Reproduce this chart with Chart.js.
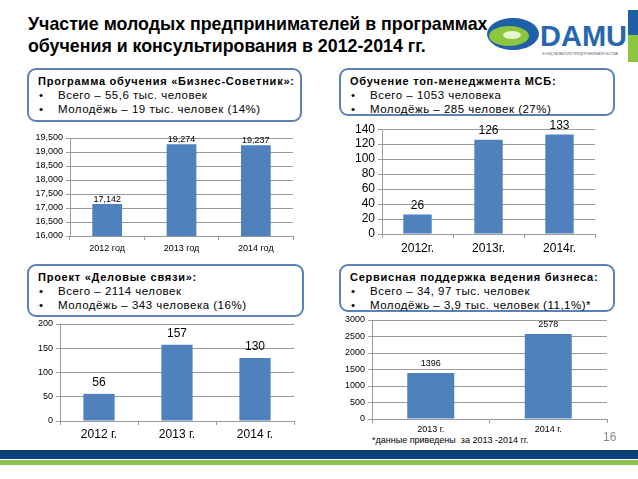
<!DOCTYPE html>
<html>
<head>
<meta charset="utf-8">
<script src="https://cdn.jsdelivr.net/npm/chart.js@4.4.1/dist/chart.umd.min.js"></script>
<style>
  body { margin: 0; width: 638px; height: 479px; background: #fff; position: relative; overflow: hidden;
         font-family: "Liberation Sans", Arial, sans-serif; color: #000; }
  .title { position: absolute; left: 28px; top: 13px; font-size: 17.8px; font-weight: bold; line-height: 22px; }
  .box { position: absolute; border: 2px solid #5b82b8; border-radius: 9px; background: #fff; box-sizing: border-box;
         font-size: 11.5px; line-height: 14px; padding: 4px 0 0 9px; letter-spacing: 0.5px; white-space: nowrap; }
  .box b { font-size: 11px; letter-spacing: 0.75px; display: block; }
  .box .li { position: relative; padding-left: 20px; }
  .box .li:before { content: "•"; position: absolute; left: 1px; letter-spacing: 0; }
  canvas { position: absolute; }
  .stripe1 { position: absolute; left: 0; top: 450px; width: 638px; height: 9px; background: #0d3f7a; }
  .stripe2 { position: absolute; left: 0; top: 460px; width: 638px; height: 5px; background: #8dc04a; }
  .note { position: absolute; left: 372px; top: 435px; font-size: 9px; }
  .page { position: absolute; left: 603px; top: 430px; font-size: 12px; color: #8c8c8c; }
</style>
</head>
<body>
<div class="title">Участие молодых предпринимателей в программах<br>обучения и консультирования в 2012-2014 гг.</div>

<svg style="position:absolute;left:485px;top:8px" width="153" height="56">
  <ellipse cx="28" cy="26" rx="26" ry="16" fill="#1f5fa6"/>
  <ellipse cx="24" cy="28" rx="20" ry="10" fill="#8cc63f"/>
  <ellipse cx="27" cy="27" rx="9" ry="4" fill="#e8f5d0"/>
  <text x="55" y="38" font-family="Liberation Sans, Arial" font-size="29" font-weight="bold" fill="#2867ad">DAMU</text>
  <text x="57" y="47" font-family="Liberation Sans, Arial" font-size="3.5" fill="#667">ФОНД РАЗВИТИЯ ПРЕДПРИНИМАТЕЛЬСТВА</text>
  <rect x="143" y="2" width="10" height="25" fill="#1f5fa6"/>
  <rect x="143" y="27" width="10" height="27" fill="#8cc63f"/>
</svg>

<div class="box" style="left:27px;top:68px;width:275px;height:54px">
  <b>Программа обучения «Бизнес-Советник»:</b>
  <div class="li">Всего – 55,6 тыс. человек</div>
  <div class="li">Молодёжь – 19 тыс. человек (14%)</div>
</div>
<div class="box" style="left:339px;top:68px;width:276px;height:48px">
  <b>Обучение топ-менеджмента МСБ:</b>
  <div class="li">Всего – 1053 человека</div>
  <div class="li">Молодёжь – 285 человек (27%)</div>
</div>
<div class="box" style="left:27px;top:264px;width:277px;height:53px">
  <b>Проект «Деловые связи»:</b>
  <div class="li">Всего – 2114 человек</div>
  <div class="li">Молодёжь – 343 человека (16%)</div>
</div>
<div class="box" style="left:339px;top:264px;width:276px;height:48px">
  <b>Сервисная поддержка ведения бизнеса:</b>
  <div class="li">Всего – 34, 97 тыс. человек</div>
  <div class="li">Молодёжь – 3,9 тыс. человек (11,1%)*</div>
</div>

<canvas id="c1" width="280" height="130" style="left:20px;top:128px"></canvas>
<canvas id="c2" width="272" height="139" style="left:330px;top:119px"></canvas>
<canvas id="c3" width="280" height="131" style="left:20px;top:314px"></canvas>
<canvas id="c4" width="284" height="125" style="left:330px;top:310px"></canvas>

<div class="note">*данные приведены&nbsp; за 2013 -2014 гг.</div>
<div class="page">16</div>
<div class="stripe1"></div>
<div class="stripe2"></div>

<script>
// ---- data ----
const advisorYears = ["2012 год", "2013 год", "2014 год"];
const advisorValues = [17142, 19274, 19237];

const topMgmtYears = ["2012г.", "2013г.", "2014г."];
const topMgmtValues = [26, 126, 133];

const linksYears = ["2012 г.", "2013 г.", "2014 г."];
const linksValues = [56, 157, 130];

const serviceYears = ["2013 г.", "2014 г."];
const serviceValues = [1396, 2578];

const BAR = "#4f81bd";
const GRID = "#9a9a9a";
Chart.defaults.font.family = '"Liberation Sans", Arial, sans-serif';
Chart.defaults.color = "#000";
Chart.defaults.animation = false;

/* value labels above bars */
const barLabels = {
  id: "barLabels",
  afterDatasetsDraw(chart, args, opts) {
    const ctx = chart.ctx;
    const meta = chart.getDatasetMeta(0);
    ctx.save();
    ctx.font = opts.size + 'px "Liberation Sans", Arial, sans-serif';
    ctx.fillStyle = "#000";
    ctx.textAlign = "center";
    ctx.textBaseline = "bottom";
    meta.data.forEach((bar, i) => {
      const v = chart.data.datasets[0].data[i];
      ctx.fillText(opts.fmt ? v.toLocaleString("en-US") : String(v), bar.x, bar.y - opts.gap);
    });
    ctx.restore();
  }
};

function makeChart(id, labels, values, o) {
  return new Chart(document.getElementById(id), {
    type: "bar",
    data: {
      labels: labels,
      datasets: [{ data: values, backgroundColor: BAR, barPercentage: 0.4, categoryPercentage: 1 }]
    },
    options: {
      responsive: false,
      layout: { padding: { top: 10, right: o.right, bottom: 0, left: 0 } },
      plugins: {
        legend: { display: false },
        tooltip: { enabled: false },
        barLabels: { size: o.labelSize, gap: o.gap, fmt: o.fmt }
      },
      scales: {
        x: {
          grid: { offset: true, drawOnChartArea: false, tickLength: 4, color: GRID },
          border: { color: GRID },
          ticks: { font: { size: o.xSize }, padding: o.xPad, maxRotation: 0 },
          afterFit: s => { s.height = o.xHeight; }
        },
        y: {
          min: o.min, max: o.max,
          grid: { color: GRID, tickLength: 4 },
          border: { color: GRID },
          ticks: {
            stepSize: o.step, autoSkip: false, font: { size: o.ySize }, padding: 3,
            callback: v => o.fmt ? v.toLocaleString("en-US") : v
          },
          afterFit: s => { s.width = o.yWidth; }
        }
      }
    },
    plugins: [barLabels]
  });
}

makeChart("c1", advisorYears, advisorValues,
  { min: 16000, max: 19500, step: 500, fmt: true, ySize: 9, xSize: 9, labelSize: 9, gap: 0,
    yWidth: 50, right: 7, xHeight: 22, xPad: 3 });
makeChart("c2", topMgmtYears, topMgmtValues,
  { min: 0, max: 140, step: 20, ySize: 12, xSize: 12, labelSize: 12, gap: 3,
    yWidth: 52, right: 7, xHeight: 24, xPad: 3 });
makeChart("c3", linksYears, linksValues,
  { min: 0, max: 200, step: 50, ySize: 9, xSize: 12, labelSize: 12, gap: 5,
    yWidth: 40, right: 6, xHeight: 24, xPad: 2 });
makeChart("c4", serviceYears, serviceValues,
  { min: 0, max: 3000, step: 500, ySize: 9, xSize: 9, labelSize: 9, gap: 5,
    yWidth: 42, right: 7, xHeight: 16, xPad: 1 });
</script>
</body>
</html>
